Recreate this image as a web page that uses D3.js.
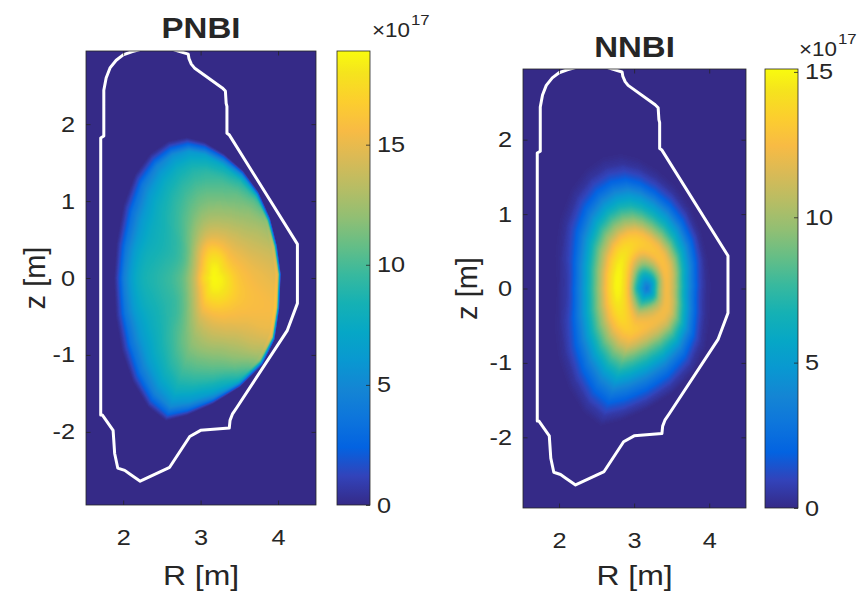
<!DOCTYPE html>
<html>
<head>
<meta charset="utf-8">
<script src="https://cdn.jsdelivr.net/npm/d3@7"></script>
<style>
  body { margin: 0; background: #ffffff; }
  svg text { font-family: "Liberation Sans", Arial, sans-serif; fill: #262626; }
</style>
</head>
<body>
<svg id="fig" width="867" height="593"></svg>
<script>
// ---------------------------------------------------------------
// Fast-ion birth density (units of 1e17) for two neutral beams,
// tabulated on normalised minor radius rho x poloidal angle theta
// (theta measured from the outboard midplane, counter-clockwise).
// ---------------------------------------------------------------
const rhoGrid   = [0, 0.1, 0.2, 0.3, 0.4, 0.5, 0.6, 0.7, 0.8, 0.9, 0.95, 1.0];
const thetaGrid = [0, 45, 90, 135, 180, 225, 270, 315];

const pnbiValues = [
  [18.8, 18.5, 17.8, 16.8, 16.1, 15.7, 15.4, 15.2, 15.0, 14.8, 14.3, 0],
  [18.8, 18.3, 17.2, 16.0, 15.2, 14.6, 14.0, 13.5, 13.0, 12.3, 11.0, 0],
  [18.8, 18.3, 17.0, 15.0, 13.5, 12.3, 11.3, 10.3,  9.2,  7.0,  3.5, 0],
  [18.8, 17.0, 13.8, 11.0,  9.6,  8.9,  8.3,  7.5,  6.0,  3.5,  1.5, 0],
  [18.8, 17.2, 13.5, 11.0,  9.9,  9.3,  8.8,  8.3,  7.0,  4.3,  1.8, 0],
  [18.8, 17.0, 14.0, 11.5, 10.0,  9.3,  8.5,  7.5,  6.0,  3.5,  1.5, 0],
  [18.8, 18.3, 17.0, 15.5, 14.3, 13.2, 12.0, 10.8,  9.3,  7.0,  4.5, 0],
  [18.8, 18.5, 17.8, 16.9, 16.2, 15.8, 15.5, 15.3, 15.1, 14.8, 14.0, 0]
];

const nnbiValues = [
  [3.2, 6.0, 10.0, 12.3, 11.0,  8.2, 5.3, 3.0, 1.2, 0.3, 0.1, 0],
  [3.2, 5.5,  9.3, 12.3, 12.0,  9.6, 6.8, 4.4, 2.2, 0.7, 0.2, 0],
  [3.2, 6.0, 10.0, 12.8, 12.5,  9.6, 6.9, 4.5, 2.0, 0.6, 0.2, 0],
  [3.2, 7.0, 12.3, 14.6, 13.3, 10.3, 7.3, 4.4, 2.0, 0.6, 0.2, 0],
  [3.2, 6.8, 12.8, 14.9, 13.2,  9.8, 6.5, 3.5, 1.0, 0.2, 0.0, 0],
  [3.2, 7.5, 12.5, 14.0, 12.6,  9.7, 6.9, 4.2, 2.0, 0.6, 0.2, 0],
  [3.2, 7.0, 11.0, 12.5, 11.3,  8.8, 6.6, 4.4, 2.5, 1.0, 0.4, 0],
  [3.2, 6.0, 10.0, 12.2, 11.6,  9.0, 6.3, 3.7, 1.7, 0.5, 0.2, 0]
];

// Magnetic axis and last closed flux surface [m]
const axisR = 3.17, axisZ = 0.0;
const lcfsR = [4.04, 3.99, 3.90, 3.75, 3.55, 3.30, 3.05, 2.82, 2.58, 2.35, 2.15, 2.00, 1.91, 1.88,
               1.90, 1.98, 2.12, 2.32, 2.55, 2.82, 3.16, 3.51, 3.80, 3.96, 4.02];
const lcfsZ = [0.05, 0.42, 0.78, 1.12, 1.40, 1.62, 1.77, 1.83, 1.78, 1.62, 1.35, 0.95, 0.45, 0.00,
               -0.50, -0.95, -1.35, -1.68, -1.86, -1.79, -1.64, -1.42, -1.13, -0.80, -0.40];

// First wall contour [m]
const wallR = [1.71, 1.71, 1.75, 1.75, 1.78, 1.83, 1.91, 2.00, 2.11, 2.22, 2.35, 2.58, 2.71, 2.84,
               2.85, 2.88, 2.92, 3.28, 3.32, 3.33, 3.34, 3.34, 3.37, 4.25, 4.25, 4.12, 3.47, 3.41,
               3.38, 3.37, 3.00, 2.86, 2.60, 2.22, 2.09, 2.02, 1.93, 1.89, 1.87, 1.73];
const wallZ = [-1.78, 1.82, 1.845, 2.44, 2.60, 2.73, 2.83, 2.90, 2.94, 2.97, 2.99, 2.99, 2.95, 2.91,
               2.85, 2.78, 2.73, 2.47, 2.43, 2.27, 2.23, 1.88, 1.86, 0.44, -0.33, -0.68, -1.68, -1.77,
               -1.85, -1.95, -1.98, -2.06, -2.46, -2.64, -2.55, -2.50, -2.47, -2.28, -1.98, -1.78];

// Axis ticks
const rTicks = [2, 3, 4];
const zTicks = [-2, -1, 0, 1, 2];
const cbarTicks = [0, 5, 10, 15];
const rDomain = [1.52, 4.49];
const zDomain = [-2.95, 2.95];

// Parula colour map (17 evenly spaced stops)
const parula = [
  [0.2081, 0.1663, 0.5292], [0.1959, 0.2645, 0.7279], [0.0117, 0.3875, 0.8820],
  [0.0498, 0.4586, 0.8641], [0.0793, 0.5200, 0.8312], [0.0343, 0.5966, 0.8199],
  [0.0228, 0.6535, 0.7768], [0.0843, 0.6928, 0.7062], [0.2178, 0.7250, 0.6193],
  [0.3953, 0.7459, 0.5244], [0.5709, 0.7485, 0.4494], [0.7184, 0.7411, 0.3905],
  [0.8507, 0.7299, 0.3360], [0.9739, 0.7314, 0.2666], [0.9880, 0.8066, 0.1794],
  [0.9589, 0.8949, 0.1132], [0.9763, 0.9831, 0.0538]
];
const parulaPos = [0, 4, 8, 12, 16, 20, 24, 28, 32, 36, 40, 44, 48, 52, 56, 60, 63].map(i => i / 63);
const parulaHex = parula.map(c => d3.rgb(c[0] * 255, c[1] * 255, c[2] * 255).formatHex());

// ---------------------------------------------------------------
const ink = "#262626";
const fontStack = '"Liberation Sans", Arial, sans-serif';
const svg = d3.select("#fig");
const defs = svg.append("defs");

// Horizontally widen text while keeping its anchor point fixed
function widen(sel, k) {
  sel.each(function () {
    const t = d3.select(this);
    const x0 = +(t.attr("x") || 0);
    t.attr("x", x0 / k).attr("transform", `scale(${k},1)`);
  });
}

const panels = [
  { key: "pnbi", title: "PNBI", values: pnbiValues, cmax: 18.9,
    box: { x0: 86, x1: 316, y0: 51, y1: 505 }, bar: { x0: 337, x1: 370 },
    titleY: 38, expX: 372, expY: 37, zLabelX: 45, rLabelY: 585 },
  { key: "nnbi", title: "NNBI", values: nnbiValues, cmax: 15.1,
    box: { x0: 523, x1: 746, y0: 69, y1: 508 }, bar: { x0: 765, x1: 798 },
    titleY: 57, expX: 799, expY: 56, zLabelX: 477, rLabelY: 585 }
];

// Boundary radius as a function of poloidal angle (ray / polygon intersection)
const NB = 1440;
const boundaryTable = new Float64Array(NB);
for (let k = 0; k < NB; k++) {
  const th = 2 * Math.PI * k / NB, dx = Math.cos(th), dz = Math.sin(th);
  let best = Infinity;
  for (let i = 0; i < lcfsR.length; i++) {
    const j = (i + 1) % lcfsR.length;
    const ax = lcfsR[i] - axisR, az = lcfsZ[i] - axisZ;
    const ex = lcfsR[j] - lcfsR[i], ez = lcfsZ[j] - lcfsZ[i];
    const den = dx * ez - dz * ex;
    if (Math.abs(den) < 1e-12) continue;
    const t = (ax * ez - az * ex) / den;
    const s = (ax * dz - az * dx) / den;
    if (t > 0 && s >= -1e-9 && s <= 1 + 1e-9) best = Math.min(best, t);
  }
  boundaryTable[k] = best;
}
function boundaryRadius(th) {
  const u = th / (2 * Math.PI) * NB;
  const k = Math.floor(u), t = u - k;
  return boundaryTable[k % NB] * (1 - t) + boundaryTable[(k + 1) % NB] * t;
}

function catmull(p0, p1, p2, p3, t) {
  return 0.5 * (2 * p1 + (-p0 + p2) * t + (2 * p0 - 5 * p1 + 4 * p2 - p3) * t * t +
                (-p0 + 3 * p1 - 3 * p2 + p3) * t * t * t);
}
function sampleRow(row, rho) {
  const n = rhoGrid.length;
  let i = 0;
  while (i < n - 2 && rho >= rhoGrid[i + 1]) i++;
  const t = (rho - rhoGrid[i]) / (rhoGrid[i + 1] - rhoGrid[i]);
  return catmull(row[Math.max(i - 1, 0)], row[i], row[i + 1], row[Math.min(i + 2, n - 1)], t);
}
function sampleField(table, R, z) {
  const dR = R - axisR, dz = z - axisZ;
  let th = Math.atan2(dz, dR);
  if (th < 0) th += 2 * Math.PI;
  const rho = Math.hypot(dR, dz) / boundaryRadius(th);
  if (rho >= 1) return 0;
  const m = thetaGrid.length;
  const u = th / (2 * Math.PI) * m;
  const k = Math.floor(u) % m, t = u - Math.floor(u);
  return catmull(sampleRow(table[(k - 1 + m) % m], rho), sampleRow(table[k], rho),
                 sampleRow(table[(k + 1) % m], rho), sampleRow(table[(k + 2) % m], rho), t);
}

// Colour bar gradient (shared, normalised)
const grad = defs.append("linearGradient").attr("id", "parulaGrad")
  .attr("x1", 0).attr("y1", 1).attr("x2", 0).attr("y2", 0);
parulaHex.forEach((c, i) => grad.append("stop").attr("offset", parulaPos[i]).attr("stop-color", c));

panels.forEach(p => {
  const x = d3.scaleLinear().domain(rDomain).range([p.box.x0, p.box.x1]);
  const y = d3.scaleLinear().domain(zDomain).range([p.box.y1, p.box.y0]);
  const color = d3.scaleLinear().domain(parulaPos.map(f => f * p.cmax)).range(parulaHex)
    .interpolate(d3.interpolateRgb).clamp(true);

  // lookup table for fast per-pixel colouring
  const lut = d3.range(256).map(i => d3.rgb(color(i / 255 * p.cmax)));

  // field image
  const w = p.box.x1 - p.box.x0, h = p.box.y1 - p.box.y0;
  const cv = document.createElement("canvas");
  cv.width = w; cv.height = h;
  const ctx = cv.getContext("2d");
  const img = ctx.createImageData(w, h);
  for (let py = 0; py < h; py++) {
    const z = y.invert(p.box.y0 + py + 0.5);
    for (let px = 0; px < w; px++) {
      const R = x.invert(p.box.x0 + px + 0.5);
      const v = Math.max(0, Math.min(p.cmax, sampleField(p.values, R, z)));
      const c = lut[Math.round(v / p.cmax * 255)];
      const o = (py * w + px) * 4;
      img.data[o] = c.r; img.data[o + 1] = c.g; img.data[o + 2] = c.b; img.data[o + 3] = 255;
    }
  }
  ctx.putImageData(img, 0, 0);

  const g = svg.append("g");
  g.append("image").attr("x", p.box.x0).attr("y", p.box.y0)
    .attr("width", w).attr("height", h)
    .attr("preserveAspectRatio", "none")
    .attr("href", cv.toDataURL());

  // first wall
  defs.append("clipPath").attr("id", "clip-" + p.key)
    .append("rect").attr("x", p.box.x0).attr("y", p.box.y0).attr("width", w).attr("height", h);
  const wallLine = d3.line().x(i => x(wallR[i])).y(i => y(wallZ[i])).curve(d3.curveLinearClosed);
  g.append("path").attr("d", wallLine(d3.range(wallR.length)))
    .attr("clip-path", "url(#clip-" + p.key + ")")
    .attr("fill", "none").attr("stroke", "#ffffff").attr("stroke-width", 3)
    .attr("stroke-linejoin", "round");

  // axes (inward ticks, mirrored on top/right)
  const fmt = d => String(d);
  const axB = g.append("g").attr("transform", `translate(0,${p.box.y1})`)
    .call(d3.axisBottom(x).tickValues(rTicks).tickFormat(fmt).tickSizeInner(-4.5).tickSizeOuter(0).tickPadding(24));
  const axL = g.append("g").attr("transform", `translate(${p.box.x0},0)`)
    .call(d3.axisLeft(y).tickValues(zTicks).tickFormat(fmt).tickSizeInner(-4.5).tickSizeOuter(0).tickPadding(11));
  const axT = g.append("g").attr("transform", `translate(0,${p.box.y0})`)
    .call(d3.axisTop(x).tickValues(rTicks).tickFormat("").tickSizeInner(-4.5).tickSizeOuter(0));
  const axR = g.append("g").attr("transform", `translate(${p.box.x1},0)`)
    .call(d3.axisRight(y).tickValues(zTicks).tickFormat("").tickSizeInner(-4.5).tickSizeOuter(0));
  [axB, axL, axT, axR].forEach(a => {
    a.select(".domain").remove();
    a.selectAll("line").attr("stroke", ink).attr("stroke-width", 0.8);
    a.selectAll("text").attr("font-size", 22).attr("fill", ink).style("font-family", fontStack);
  });
  widen(axB.selectAll("text"), 1.15);
  widen(axL.selectAll("text"), 1.15);
  g.append("rect").attr("x", p.box.x0).attr("y", p.box.y0).attr("width", w).attr("height", h)
    .attr("fill", "none").attr("stroke", ink).attr("stroke-width", 0.8);

  // labels
  g.append("text").attr("x", (p.box.x0 + p.box.x1) / 2).attr("y", p.titleY)
    .attr("text-anchor", "middle").attr("font-size", 30).attr("font-weight", "bold")
    .text(p.title).call(widen, 1.1);
  g.append("text").attr("x", (p.box.x0 + p.box.x1) / 2).attr("y", p.rLabelY)
    .attr("text-anchor", "middle").attr("font-size", 28).text("R [m]").call(widen, 1.14);
  g.append("text")
    .attr("transform", `translate(${p.zLabelX},${(p.box.y0 + p.box.y1) / 2}) rotate(-90)`)
    .attr("text-anchor", "middle").attr("font-size", 29).text("z [m]");

  // colour bar
  const cb = d3.scaleLinear().domain([0, p.cmax]).range([p.box.y1, p.box.y0]);
  const bw = p.bar.x1 - p.bar.x0;
  g.append("rect").attr("x", p.bar.x0).attr("y", p.box.y0).attr("width", bw).attr("height", h)
    .attr("fill", "url(#parulaGrad)").attr("stroke", ink).attr("stroke-width", 0.8);
  const axC = g.append("g").attr("transform", `translate(${p.bar.x1},0)`)
    .call(d3.axisRight(cb).tickValues(cbarTicks).tickFormat(fmt).tickSizeInner(-4).tickSizeOuter(0).tickPadding(7));
  axC.select(".domain").remove();
  axC.selectAll("line").attr("stroke", ink).attr("stroke-width", 0.8);
  axC.selectAll("text").attr("font-size", 22).attr("fill", ink).style("font-family", fontStack);
  widen(axC.selectAll("text"), 1.15);

  // exponent label
  g.append("text").attr("x", p.expX).attr("y", p.expY).attr("font-size", 20).text("\u00d710").call(widen, 1.12);
  g.append("text").attr("x", p.expX + 39).attr("y", p.expY - 12).attr("font-size", 15).text("17").call(widen, 1.12);
});
</script>
</body>
</html>
